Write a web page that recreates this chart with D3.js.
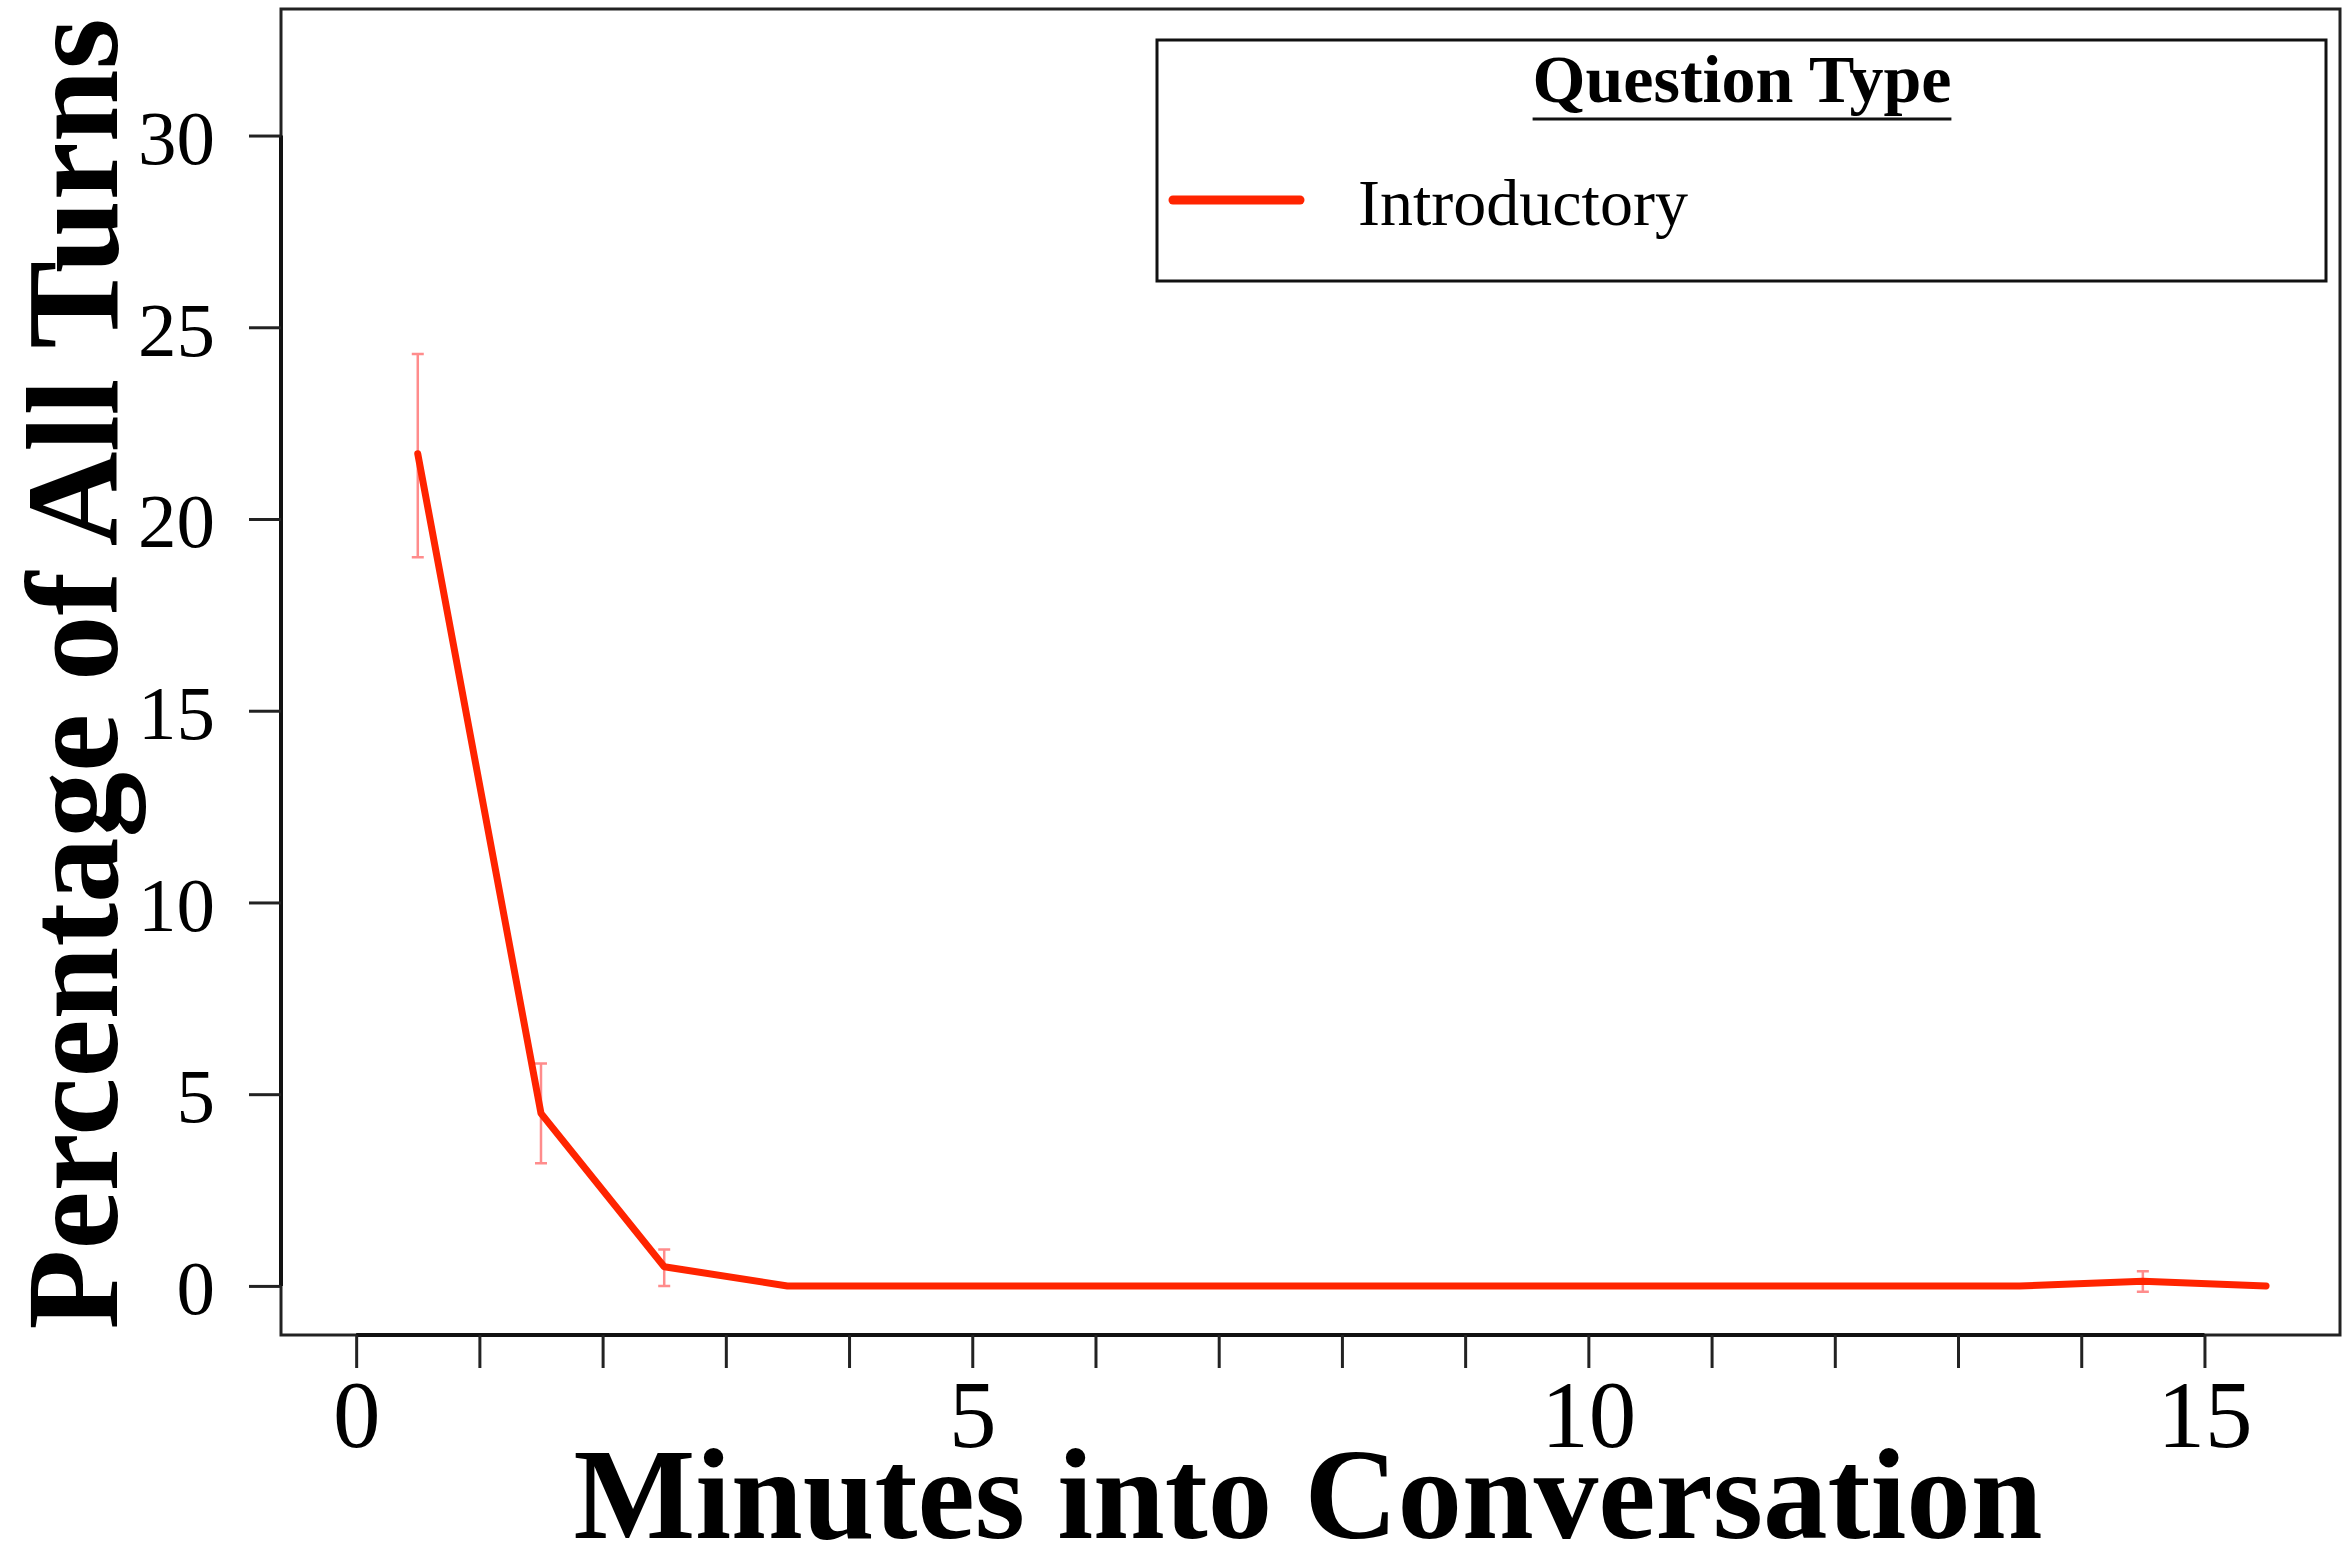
<!DOCTYPE html>
<html>
<head>
<meta charset="utf-8">
<script src="https://cdn.jsdelivr.net/npm/d3@7"></script>
<style>
  body { margin: 0; background: #fff; }
  svg { display: block; }
  text { font-family: "Liberation Serif", "Times New Roman", serif; fill: #000; }
</style>
</head>
<body>
<div id="vis"></div>
<script>
// data
const minutes = [0.5, 1.5, 2.5, 3.5, 4.5, 5.5, 6.5, 7.5, 8.5, 9.5, 10.5, 11.5, 12.5, 13.5, 14.5, 15.5];
const introductory = [21.7, 4.5, 0.5, 0, 0, 0, 0, 0, 0, 0, 0, 0, 0, 0, 0.12, 0];
const errLow =  [19.0, 3.2, 0.0, null, null, null, null, null, null, null, null, null, null, null, -0.15, null];
const errHigh = [24.3, 5.8, 0.95, null, null, null, null, null, null, null, null, null, null, null, 0.38, null];
const xTicks = d3.range(0, 16);
const xTickLabels = [0, 5, 10, 15];
const yTicks = [0, 5, 10, 15, 20, 25, 30];

const width = 2344;
const height = 1550;
const red = "#ff2400";
const errColor = "#ff8c8c";

// plot box
const box = { left: 281, top: 9, right: 2340, bottom: 1335 };

const x = d3.scaleLinear().domain([-0.61, 16.1]).range([box.left, box.right]);
const y = d3.scaleLinear().domain([-1.28, 33.3]).range([box.bottom, box.top]);

const svg = d3.select("#vis")
  .append("svg")
  .attr("width", width)
  .attr("height", height);

svg.append("rect")
  .attr("x", box.left)
  .attr("y", box.top)
  .attr("width", box.right - box.left)
  .attr("height", box.bottom - box.top)
  .attr("fill", "none")
  .attr("stroke", "#222")
  .attr("stroke-width", 3);

// x axis
const xAxis = svg.append("g")
  .attr("transform", `translate(0,${box.bottom})`)
  .call(d3.axisBottom(x).tickValues(xTicks).tickSize(33)
    .tickFormat(d => xTickLabels.includes(d) ? d : ""));
xAxis.select(".domain")
  .attr("d", `M${x(0)},0H${x(15)}`)
  .attr("stroke", "#111")
  .attr("stroke-width", 4);
xAxis.selectAll(".tick line").attr("stroke", "#222").attr("stroke-width", 3);
xAxis.selectAll(".tick text")
  .attr("y", 112)
  .attr("dy", 0)
  .style("font-family", "Liberation Serif, Times New Roman, serif")
  .style("font-size", "95px");

// y axis
const yAxis = svg.append("g")
  .attr("transform", `translate(${box.left},0)`)
  .call(d3.axisLeft(y).tickValues(yTicks).tickSize(32).tickPadding(34));
yAxis.select(".domain")
  .attr("d", `M0,${y(0)}V${y(30)}`)
  .attr("stroke", "#111")
  .attr("stroke-width", 4);
yAxis.selectAll(".tick line").attr("stroke", "#222").attr("stroke-width", 3);
yAxis.selectAll(".tick text")
  .attr("dy", "0.36em")
  .style("font-family", "Liberation Serif, Times New Roman, serif")
  .style("font-size", "77px");

// axis titles
svg.append("text")
  .attr("x", 1308)
  .attr("y", 1538)
  .attr("text-anchor", "middle")
  .style("font-size", "129px")
  .style("font-weight", "bold")
  .text("Minutes into Conversation");

svg.append("text")
  .attr("transform", "translate(117,674) rotate(-90)")
  .attr("text-anchor", "middle")
  .style("font-size", "131px")
  .style("font-weight", "bold")
  .text("Percentage of All Turns");

// error bars
const bars = minutes.map((m, i) => ({ m, lo: errLow[i], hi: errHigh[i] }))
  .filter(d => d.lo !== null);
const capW = 6;
const eb = svg.append("g")
  .attr("stroke", errColor)
  .attr("stroke-width", 2.5)
  .attr("fill", "none");
eb.selectAll(".err")
  .data(bars)
  .enter()
  .append("path")
  .attr("class", "err")
  .attr("d", d => {
    const cx = x(d.m), y1 = y(d.lo), y2 = y(d.hi);
    return `M${cx},${y1}V${y2}M${cx - capW},${y1}H${cx + capW}M${cx - capW},${y2}H${cx + capW}`;
  });

// main line
const line = d3.line()
  .x((d, i) => x(minutes[i]))
  .y(d => y(d));

svg.append("path")
  .datum(introductory)
  .attr("d", line)
  .attr("fill", "none")
  .attr("stroke", red)
  .attr("stroke-width", 7)
  .attr("stroke-linejoin", "round")
  .attr("stroke-linecap", "round");

// legend
const legend = svg.append("g");
legend.append("rect")
  .attr("x", 1157)
  .attr("y", 40)
  .attr("width", 2326 - 1157)
  .attr("height", 281 - 40)
  .attr("fill", "#fff")
  .attr("stroke", "#111")
  .attr("stroke-width", 3);

const title = legend.append("text")
  .attr("x", 1742)
  .attr("y", 102)
  .attr("text-anchor", "middle")
  .style("font-size", "68px")
  .style("font-weight", "bold")
  .text("Question Type");
const tb = title.node().getBBox();
legend.append("line")
  .attr("x1", tb.x)
  .attr("x2", tb.x + tb.width)
  .attr("y1", 119)
  .attr("y2", 119)
  .attr("stroke", "#111")
  .attr("stroke-width", 3);

legend.append("line")
  .attr("x1", 1173)
  .attr("x2", 1300)
  .attr("y1", 200)
  .attr("y2", 200)
  .attr("stroke", red)
  .attr("stroke-width", 9)
  .attr("stroke-linecap", "round");

legend.append("text")
  .attr("x", 1358)
  .attr("y", 225)
  .style("font-size", "66px")
  .text("Introductory");
</script>
</body>
</html>
